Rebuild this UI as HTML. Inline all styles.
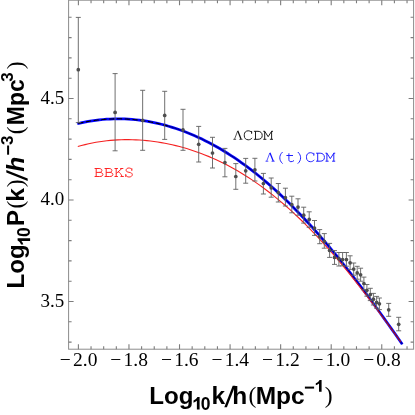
<!DOCTYPE html>
<html><head><meta charset="utf-8"><title>Power spectrum</title>
<style>html,body{margin:0;padding:0;background:#fff;width:415px;height:415px;overflow:hidden;font-family:"Liberation Sans",sans-serif}</style></head>
<body>
<div style="position:absolute;left:0;top:0;width:415px;height:415px;will-change:transform">
<svg width="415" height="415" viewBox="0 0 415 415" style="position:absolute;left:0;top:0">
<path d="M77.30,123.77 L80.95,122.91 L84.60,122.13 L88.26,121.44 L91.91,120.83 L95.56,120.31 L99.21,119.86 L102.86,119.50 L106.51,119.21 L110.17,119.01 L113.82,118.88 L117.47,118.83 L121.12,118.86 L124.77,118.97 L128.42,119.15 L132.08,119.42 L135.73,119.75 L139.38,120.17 L143.03,120.66 L146.68,121.23 L150.33,121.87 L153.99,122.59 L157.64,123.38 L161.29,124.25 L164.94,125.20 L168.59,126.22 L172.24,127.32 L175.90,128.50 L179.55,129.75 L183.20,131.07 L186.85,132.48 L190.50,133.96 L194.15,135.51 L197.81,137.15 L201.46,138.86 L205.11,140.64 L208.76,142.51 L212.41,144.45 L216.06,146.47 L219.72,148.56 L223.37,150.74 L227.02,152.99 L230.67,155.32 L234.32,157.72 L237.97,160.21 L241.63,162.77 L245.28,165.41 L248.93,168.13 L252.58,170.92 L256.23,173.79 L259.88,176.74 L263.54,179.77 L267.19,182.87 L270.84,186.05 L274.49,189.31 L278.14,192.64 L281.79,196.04 L285.45,199.52 L289.10,203.08 L292.75,206.71 L296.40,210.41 L300.05,214.19 L303.70,218.03 L307.36,221.95 L311.01,225.94 L314.66,230.00 L318.31,234.12 L321.96,238.31 L325.61,242.57 L329.27,246.89 L332.92,251.28 L336.57,255.73 L340.22,260.23 L343.87,264.80 L347.52,269.42 L351.18,274.10 L354.83,278.83 L358.48,283.62 L362.13,288.45 L365.78,293.33 L369.43,298.26 L373.09,303.22 L376.74,308.23 L380.39,313.28 L384.04,318.36 L387.69,323.47 L391.34,328.62 L395.00,333.78 L398.65,338.98 L402.30,344.19" fill="none" stroke="#0000ff" stroke-width="2.75"/>
<path d="M77.80,146.59 L81.43,145.56 L85.06,144.62 L88.69,143.77 L92.32,143.01 L95.95,142.33 L99.58,141.73 L103.20,141.21 L106.83,140.77 L110.46,140.41 L114.09,140.12 L117.72,139.90 L121.35,139.75 L124.98,139.67 L128.61,139.66 L132.24,139.72 L135.87,139.85 L139.50,140.05 L143.13,140.31 L146.76,140.63 L150.38,141.03 L154.01,141.49 L157.64,142.01 L161.27,142.60 L164.90,143.26 L168.53,143.98 L172.16,144.77 L175.79,145.62 L179.42,146.55 L183.05,147.53 L186.68,148.59 L190.31,149.71 L193.93,150.91 L197.56,152.17 L201.19,153.50 L204.82,154.90 L208.45,156.38 L212.08,157.92 L215.71,159.54 L219.34,161.23 L222.97,163.00 L226.60,164.84 L230.23,166.75 L233.86,168.75 L237.49,170.82 L241.11,172.96 L244.74,175.19 L248.37,177.49 L252.00,179.87 L255.63,182.34 L259.26,184.88 L262.89,187.50 L266.52,190.21 L270.15,193.00 L273.78,195.87 L277.41,198.82 L281.04,201.85 L284.67,204.96 L288.29,208.16 L291.92,211.44 L295.55,214.80 L299.18,218.24 L302.81,221.76 L306.44,225.36 L310.07,229.04 L313.70,232.80 L317.33,236.64 L320.96,240.56 L324.59,244.55 L328.22,248.61 L331.84,252.74 L335.47,256.95 L339.10,261.23 L342.73,265.57 L346.36,269.98 L349.99,274.45 L353.62,278.98 L357.25,283.56 L360.88,288.20 L364.51,292.90 L368.14,297.64 L371.77,302.43 L375.40,307.25 L379.02,312.12 L382.65,317.01 L386.28,321.94 L389.91,326.89 L393.54,331.86 L397.17,336.85 L400.80,341.84" fill="none" stroke="#f52020" stroke-width="1.1"/>
<path d="M78.30,123.52 L79.31,123.28 L80.32,123.05 L81.32,122.83 L82.33,122.61 L83.34,122.39 L84.35,122.19 L85.36,121.98 L86.36,121.79 L87.37,121.60 L88.38,121.42 L89.39,121.25 L90.39,121.08 L91.40,120.91 L92.41,120.76 L93.42,120.61 L94.43,120.46 L95.43,120.32 L96.44,120.19 L97.45,120.07 L98.46,119.95 L99.47,119.83 L100.47,119.73 L101.48,119.63 L102.49,119.53 L103.50,119.44 L104.50,119.36 L105.51,119.28 L106.52,119.21 L107.53,119.15 L108.54,119.09 L109.54,119.04 L110.55,118.99 L111.56,118.95 L112.57,118.92 L113.58,118.89 L114.58,118.87 L115.59,118.85 L116.60,118.84 L117.61,118.83 L118.61,118.83 L119.62,118.84 L120.63,118.85 L121.64,118.87 L122.65,118.90 L123.65,118.93 L124.66,118.97 L125.67,119.01 L126.68,119.06 L127.69,119.11 L128.69,119.17 L129.70,119.24 L130.71,119.31 L131.72,119.39 L132.72,119.47 L133.73,119.56 L134.74,119.66 L135.75,119.76 L136.76,119.86 L137.76,119.98 L138.77,120.09 L139.78,120.22 L140.79,120.35 L141.80,120.48 L142.80,120.63 L143.81,120.77 L144.82,120.93 L145.83,121.09 L146.83,121.25 L147.84,121.42 L148.85,121.60 L149.86,121.78 L150.87,121.97 L151.87,122.16 L152.88,122.36 L153.89,122.57 L154.90,122.78 L155.91,123.00 L156.91,123.22 L157.92,123.45 L158.93,123.68 L159.94,123.92 L160.94,124.17 L161.95,124.42 L162.96,124.68 L163.97,124.94 L164.98,125.21 L165.98,125.48 L166.99,125.76 L168.00,126.05" fill="none" stroke="#000" stroke-width="1.05" stroke-dasharray="5.2 2.6"/>
<path d="M168.00,126.05 L169.99,126.63 L171.98,127.24 L173.97,127.87 L175.96,128.52 L177.94,129.19 L179.93,129.88 L181.92,130.60 L183.91,131.34 L185.90,132.10 L187.89,132.89 L189.88,133.70 L191.87,134.53 L193.85,135.38 L195.84,136.26 L197.83,137.16 L199.82,138.08 L201.81,139.03 L203.80,139.99 L205.79,140.98 L207.78,142.00 L209.76,143.03 L211.75,144.09 L213.74,145.18 L215.73,146.28 L217.72,147.41 L219.71,148.56 L221.70,149.73 L223.69,150.93 L225.67,152.15 L227.66,153.39 L229.65,154.66 L231.64,155.95 L233.63,157.26 L235.62,158.60 L237.61,159.96 L239.60,161.34 L241.58,162.74 L243.57,164.17 L245.56,165.62 L247.55,167.09 L249.54,168.59 L251.53,170.11 L253.52,171.65 L255.51,173.22 L257.49,174.80 L259.48,176.41 L261.47,178.05 L263.46,179.71 L265.45,181.38 L267.44,183.09 L269.43,184.81 L271.42,186.56 L273.40,188.33 L275.39,190.12 L277.38,191.94 L279.37,193.77 L281.36,195.63 L283.35,197.52 L285.34,199.42 L287.33,201.35 L289.31,203.29 L291.30,205.26 L293.29,207.26 L295.28,209.27 L297.27,211.30 L299.26,213.36 L301.25,215.44 L303.24,217.54 L305.22,219.66 L307.21,221.80 L309.20,223.96 L311.19,226.14 L313.18,228.35 L315.17,230.57 L317.16,232.81 L319.15,235.07 L321.13,237.36 L323.12,239.66 L325.11,241.98 L327.10,244.32 L329.09,246.68 L331.08,249.06 L333.07,251.46 L335.06,253.88 L337.04,256.31 L339.03,258.76 L341.02,261.23 L343.01,263.72 L345.00,266.22" fill="none" stroke="#000" stroke-width="0.85" stroke-opacity="0.6"/>
<path d="M345.00,266.22 L345.06,266.29 L345.11,266.37 L345.17,266.44 L345.23,266.51 L345.29,266.58 L345.34,266.66 L345.40,266.73M345.80,267.24 L345.90,267.36 L345.99,267.48 L346.09,267.60 L346.18,267.72 L346.28,267.84 L346.38,267.96 L346.41,268.01M346.82,268.52 L346.91,268.64 L347.01,268.76 L347.10,268.89 L347.20,269.01 L347.29,269.13 L347.39,269.25 L347.41,269.27M347.81,269.79 L347.90,269.91 L348.00,270.03 L348.10,270.15 L348.19,270.27 L348.29,270.40 L348.38,270.52 L348.40,270.54M348.80,271.05 L348.90,271.18 L348.99,271.30 L349.09,271.42 L349.18,271.54 L349.28,271.67 L349.38,271.79 L349.41,271.84M349.81,272.35 L349.91,272.47 L350.01,272.60 L350.10,272.72 L350.20,272.84 L350.29,272.97 L350.39,273.09 L350.41,273.11M350.81,273.63 L350.90,273.75 L351.00,273.87 L351.09,274.00 L351.19,274.12 L351.29,274.24 L351.38,274.37 L351.42,274.42M351.80,274.91 L351.90,275.03 L351.99,275.16 L352.09,275.28 L352.18,275.40 L352.28,275.53 L352.38,275.65 L352.41,275.70M352.81,276.22 L352.91,276.34 L353.01,276.47 L353.10,276.59 L353.20,276.71 L353.29,276.84 L353.39,276.96 L353.41,276.99M353.81,277.51 L353.90,277.63 L354.00,277.76 L354.09,277.88 L354.19,278.00 L354.29,278.13 L354.38,278.25 L354.42,278.30M354.80,278.80 L354.90,278.92 L354.99,279.05 L355.09,279.17 L355.18,279.30 L355.28,279.42 L355.37,279.55 L355.41,279.60M355.81,280.12 L355.91,280.25 L356.01,280.37 L356.10,280.50 L356.20,280.62 L356.29,280.75 L356.39,280.87 L356.41,280.90M356.81,281.42 L356.90,281.55 L357.00,281.67 L357.09,281.80 L357.19,281.92 L357.29,282.05 L357.38,282.17 L357.42,282.22M357.80,282.73 L357.90,282.85 L357.99,282.98 L358.09,283.10 L358.18,283.23 L358.28,283.35 L358.37,283.48 L358.41,283.53M358.81,284.06 L358.91,284.18 L359.00,284.31 L359.10,284.44 L359.20,284.56 L359.29,284.69 L359.39,284.81 L359.41,284.84M359.81,285.37 L359.90,285.50 L360.00,285.62 L360.09,285.75 L360.19,285.88 L360.29,286.00 L360.38,286.13 L360.42,286.18M360.80,286.68 L360.90,286.81 L360.99,286.94 L361.09,287.06 L361.18,287.19 L361.28,287.32 L361.37,287.45 L361.41,287.50M361.81,288.03 L361.91,288.16 L362.00,288.28 L362.10,288.41 L362.20,288.54 L362.29,288.66 L362.39,288.79 L362.41,288.82M362.81,289.35 L362.90,289.48 L363.00,289.61 L363.09,289.73 L363.19,289.86 L363.28,289.99 L363.38,290.12 L363.42,290.17M363.80,290.68 L363.90,290.80 L363.99,290.93 L364.09,291.06 L364.18,291.19 L364.28,291.31 L364.37,291.44 L364.41,291.49M364.81,292.03 L364.91,292.16 L365.00,292.29 L365.10,292.42 L365.20,292.54 L365.29,292.67 L365.39,292.80 L365.41,292.82M365.81,293.36 L365.90,293.49 L366.00,293.62 L366.09,293.75 L366.19,293.88 L366.28,294.01 L366.38,294.13 L366.42,294.19M366.80,294.70 L366.90,294.83 L366.99,294.96 L367.09,295.09 L367.18,295.21 L367.28,295.34 L367.37,295.47 L367.41,295.52M367.81,296.06 L367.91,296.19 L368.00,296.32 L368.10,296.45 L368.20,296.58 L368.29,296.71 L368.39,296.84 L368.41,296.86M368.81,297.41 L368.90,297.54 L369.00,297.66 L369.09,297.79 L369.19,297.92 L369.28,298.05 L369.38,298.18 L369.42,298.23M369.80,298.75 L369.90,298.88 L369.99,299.01 L370.09,299.14 L370.18,299.27 L370.28,299.40 L370.37,299.53 L370.41,299.58M370.81,300.13 L370.91,300.26 L371.00,300.39 L371.10,300.52 L371.19,300.65 L371.29,300.78 L371.39,300.91 L371.41,300.93M371.81,301.48 L371.90,301.61 L372.00,301.74 L372.09,301.87 L372.19,302.00 L372.28,302.13 L372.38,302.26 L372.42,302.31M372.82,302.86 L372.91,302.99 L373.01,303.12 L373.11,303.25 L373.20,303.38 L373.30,303.51 L373.39,303.64 L373.41,303.67M373.81,304.22 L373.91,304.35 L374.00,304.48 L374.10,304.61 L374.19,304.74 L374.29,304.87 L374.39,305.00 L374.40,305.03M374.81,305.58 L374.90,305.71 L375.00,305.84 L375.09,305.97 L375.19,306.10 L375.28,306.23 L375.38,306.36 L375.42,306.42M375.82,306.97 L375.91,307.10 L376.01,307.23 L376.11,307.36 L376.20,307.49 L376.30,307.62 L376.39,307.76 L376.41,307.78M376.81,308.33 L376.91,308.47 L377.00,308.60 L377.10,308.73 L377.19,308.86 L377.29,308.99 L377.39,309.12 L377.40,309.15M377.81,309.70 L377.90,309.84 L378.00,309.97 L378.09,310.10 L378.19,310.23 L378.28,310.36 L378.38,310.50 L378.42,310.55M378.82,311.10 L378.91,311.23 L379.01,311.37 L379.10,311.50 L379.20,311.63 L379.30,311.76 L379.39,311.90 L379.41,311.92M379.81,312.48 L379.91,312.61 L380.00,312.74 L380.10,312.87 L380.19,313.01 L380.29,313.14 L380.38,313.27 L380.40,313.30M380.81,313.86 L380.90,313.99 L381.00,314.12 L381.09,314.25 L381.19,314.39 L381.28,314.52 L381.38,314.65 L381.42,314.70M381.82,315.26 L381.91,315.39 L382.01,315.53 L382.10,315.66 L382.20,315.79 L382.30,315.93 L382.39,316.06 L382.41,316.09M382.81,316.64 L382.91,316.78 L383.00,316.91 L383.10,317.04 L383.19,317.18 L383.29,317.31 L383.38,317.44 L383.40,317.47M383.81,318.03 L383.90,318.16 L384.00,318.30 L384.09,318.43 L384.19,318.56 L384.28,318.70 L384.38,318.83 L384.42,318.88M384.82,319.44 L384.91,319.58 L385.01,319.71 L385.10,319.84 L385.20,319.98 L385.30,320.11 L385.39,320.25 L385.41,320.27M385.81,320.83 L385.91,320.97 L386.00,321.10 L386.10,321.24 L386.19,321.37 L386.29,321.50 L386.38,321.64 L386.40,321.66M386.80,322.23 L386.90,322.36 L387.00,322.49 L387.09,322.63 L387.19,322.76 L387.28,322.90 L387.38,323.03 L387.42,323.08M387.82,323.65 L387.91,323.78 L388.01,323.92 L388.10,324.05 L388.20,324.18 L388.30,324.32 L388.39,324.45 L388.41,324.48M388.81,325.04 L388.91,325.18 L389.00,325.31 L389.10,325.45 L389.19,325.58 L389.29,325.72 L389.38,325.85 L389.40,325.88M389.80,326.44 L389.90,326.58 L390.00,326.71 L390.09,326.85 L390.19,326.98 L390.28,327.12 L390.38,327.25 L390.42,327.30M390.82,327.87 L390.91,328.00 L391.01,328.14 L391.10,328.27 L391.20,328.41 L391.29,328.54 L391.39,328.68 L391.41,328.71M391.81,329.27 L391.91,329.41 L392.00,329.54 L392.10,329.68 L392.19,329.81 L392.29,329.95 L392.38,330.08 L392.40,330.11M392.80,330.68 L392.90,330.81 L393.00,330.95 L393.09,331.08 L393.19,331.22 L393.28,331.35 L393.38,331.49 L393.42,331.54M393.82,332.11 L393.91,332.25 L394.01,332.38 L394.10,332.52 L394.20,332.65 L394.29,332.79 L394.39,332.92 L394.41,332.95M394.81,333.52 L394.91,333.65 L395.00,333.79 L395.10,333.93 L395.19,334.06 L395.29,334.20 L395.38,334.33 L395.40,334.36M395.80,334.93 L395.90,335.06 L395.99,335.20 L396.09,335.34 L396.19,335.47 L396.28,335.61 L396.38,335.74 L396.42,335.80M396.82,336.37 L396.91,336.50 L397.01,336.64 L397.10,336.78 L397.20,336.91 L397.29,337.05 L397.39,337.18 L397.41,337.21M397.81,337.78 L397.91,337.92 L398.00,338.05 L398.10,338.19 L398.19,338.33 L398.29,338.46 L398.38,338.60 L398.40,338.62M398.80,339.20 L398.90,339.33 L398.99,339.47 L399.09,339.60 L399.19,339.74 L399.28,339.88 L399.38,340.01 L399.41,340.07M399.82,340.64 L399.91,340.78 L400.01,340.91 L400.10,341.05 L400.20,341.18 L400.29,341.32 L400.39,341.46 L400.41,341.48M400.81,342.06 L400.91,342.19 L401.00,342.33 L401.10,342.47 L401.19,342.60 L401.29,342.74 L401.38,342.88 L401.40,342.90M401.80,343.48 L401.88,343.59 L401.96,343.69 L402.03,343.80 L402.11,343.91 L402.19,344.02 L402.26,344.13 L402.30,344.19" fill="none" stroke="#000" stroke-width="1.0" stroke-opacity="0.85"/>
<path d="M78.30,17.40V122.60M75.80,17.40H80.80M75.80,122.60H80.80M115.10,73.60V150.80M112.60,73.60H117.60M112.60,150.80H117.60M142.65,90.30V150.30M140.15,90.30H145.15M140.15,150.30H145.15M164.70,91.30V139.40M162.20,91.30H167.20M162.20,139.40H167.20M183.00,109.30V150.30M180.50,109.30H185.50M180.50,150.30H185.50M198.70,126.40V162.00M196.20,126.40H201.20M196.20,162.00H201.20M212.50,137.30V168.00M210.00,137.30H215.00M210.00,168.00H215.00M224.90,148.40V176.80M222.40,148.40H227.40M222.40,176.80H227.40M235.80,163.60V189.30M233.30,163.60H238.30M233.30,189.30H238.30M245.70,158.40V183.20M243.20,158.40H248.20M243.20,183.20H248.20M254.90,158.30V181.00M252.40,158.30H257.40M252.40,181.00H257.40M263.40,173.40V194.00M260.90,173.40H265.90M260.90,194.00H265.90M271.20,178.00V197.20M268.70,178.00H273.70M268.70,197.20H273.70M278.30,183.50V202.00M275.80,183.50H280.80M275.80,202.00H280.80M285.40,188.20V206.00M282.90,188.20H287.90M282.90,206.00H287.90M291.80,196.20V212.80M289.30,196.20H294.30M289.30,212.80H294.30M298.00,198.80V215.20M295.50,198.80H300.50M295.50,215.20H300.50M303.70,207.20V223.10M301.20,207.20H306.20M301.20,223.10H306.20M309.20,211.80V227.30M306.70,211.80H311.70M306.70,227.30H311.70M314.50,220.50V235.40M312.00,220.50H317.00M312.00,235.40H317.00M319.70,229.60V243.70M317.20,229.60H322.20M317.20,243.70H322.20M324.30,233.60V248.20M321.80,233.60H326.80M321.80,248.20H326.80M329.60,243.40V257.40M327.10,243.40H332.10M327.10,257.40H332.10M334.50,250.60V264.40M332.00,250.60H337.00M332.00,264.40H337.00M338.90,252.50V266.00M336.40,252.50H341.40M336.40,266.00H341.40M342.60,252.50V265.80M340.10,252.50H345.10M340.10,265.80H345.10M346.40,252.50V266.20M343.90,252.50H348.90M343.90,266.20H348.90M350.10,255.80V269.40M347.60,255.80H352.60M347.60,269.40H352.60M353.70,263.00V275.20M351.20,263.00H356.20M351.20,275.20H356.20M357.20,266.30V279.20M354.70,266.30H359.70M354.70,279.20H359.70M360.60,268.20V281.20M358.10,268.20H363.10M358.10,281.20H363.10M363.90,277.10V289.90M361.40,277.10H366.40M361.40,289.90H366.40M366.90,284.50V296.20M364.40,284.50H369.40M364.40,296.20H369.40M370.30,288.30V300.60M367.80,288.30H372.80M367.80,300.60H372.80M373.40,293.40V305.00M370.90,293.40H375.90M370.90,305.00H375.90M376.60,296.40V308.20M374.10,296.40H379.10M374.10,308.20H379.10M379.40,298.00V309.60M376.90,298.00H381.90M376.90,309.60H381.90M388.70,303.40V316.30M386.20,303.40H391.20M386.20,316.30H391.20M398.70,317.30V330.80M396.20,317.30H401.20M396.20,330.80H401.20" fill="none" stroke="#606060" stroke-opacity="0.9" stroke-width="1.0"/>
<circle cx="78.30" cy="69.70" r="1.85" fill="#4e4e4e"/>
<circle cx="115.10" cy="112.40" r="1.85" fill="#4e4e4e"/>
<circle cx="142.65" cy="120.40" r="1.85" fill="#4e4e4e"/>
<circle cx="164.70" cy="115.40" r="1.85" fill="#4e4e4e"/>
<circle cx="183.00" cy="129.80" r="1.85" fill="#4e4e4e"/>
<circle cx="198.70" cy="144.30" r="1.85" fill="#4e4e4e"/>
<circle cx="212.50" cy="153.00" r="1.85" fill="#4e4e4e"/>
<circle cx="224.90" cy="162.60" r="1.85" fill="#4e4e4e"/>
<circle cx="235.80" cy="176.50" r="1.85" fill="#4e4e4e"/>
<circle cx="245.70" cy="170.80" r="1.85" fill="#4e4e4e"/>
<circle cx="254.90" cy="169.80" r="1.85" fill="#4e4e4e"/>
<circle cx="263.40" cy="183.50" r="1.85" fill="#4e4e4e"/>
<circle cx="271.20" cy="187.80" r="1.85" fill="#4e4e4e"/>
<circle cx="278.30" cy="192.60" r="1.85" fill="#4e4e4e"/>
<circle cx="285.40" cy="197.70" r="1.85" fill="#4e4e4e"/>
<circle cx="291.80" cy="204.60" r="1.85" fill="#4e4e4e"/>
<circle cx="298.00" cy="207.10" r="1.85" fill="#4e4e4e"/>
<circle cx="303.70" cy="215.20" r="1.85" fill="#4e4e4e"/>
<circle cx="309.20" cy="219.40" r="1.85" fill="#4e4e4e"/>
<circle cx="314.50" cy="228.00" r="1.85" fill="#4e4e4e"/>
<circle cx="319.70" cy="236.40" r="1.85" fill="#4e4e4e"/>
<circle cx="324.30" cy="241.30" r="1.85" fill="#4e4e4e"/>
<circle cx="329.60" cy="250.40" r="1.85" fill="#4e4e4e"/>
<circle cx="334.50" cy="257.40" r="1.85" fill="#4e4e4e"/>
<circle cx="338.90" cy="258.70" r="1.85" fill="#4e4e4e"/>
<circle cx="342.60" cy="259.50" r="1.85" fill="#4e4e4e"/>
<circle cx="346.40" cy="259.60" r="1.85" fill="#4e4e4e"/>
<circle cx="350.10" cy="262.80" r="1.85" fill="#4e4e4e"/>
<circle cx="353.70" cy="269.10" r="1.85" fill="#4e4e4e"/>
<circle cx="357.20" cy="272.90" r="1.85" fill="#4e4e4e"/>
<circle cx="360.60" cy="274.80" r="1.85" fill="#4e4e4e"/>
<circle cx="363.90" cy="283.50" r="1.85" fill="#4e4e4e"/>
<circle cx="366.90" cy="290.30" r="1.85" fill="#4e4e4e"/>
<circle cx="370.30" cy="294.50" r="1.85" fill="#4e4e4e"/>
<circle cx="373.40" cy="299.20" r="1.85" fill="#4e4e4e"/>
<circle cx="376.60" cy="302.40" r="1.85" fill="#4e4e4e"/>
<circle cx="379.40" cy="303.80" r="1.85" fill="#4e4e4e"/>
<circle cx="388.70" cy="309.80" r="1.85" fill="#4e4e4e"/>
<circle cx="398.70" cy="324.30" r="1.85" fill="#4e4e4e"/>
<rect x="68.6" y="0.2" width="345.0" height="349.0" fill="none" stroke="#8c8c8c" stroke-width="1"/>
<path d="M78.40,349.2v-5M78.40,0.2v5M91.04,349.2v-3M91.04,0.2v3M103.68,349.2v-3M103.68,0.2v3M116.32,349.2v-3M116.32,0.2v3M128.96,349.2v-5M128.96,0.2v5M141.60,349.2v-3M141.60,0.2v3M154.24,349.2v-3M154.24,0.2v3M166.88,349.2v-3M166.88,0.2v3M179.52,349.2v-5M179.52,0.2v5M192.16,349.2v-3M192.16,0.2v3M204.80,349.2v-3M204.80,0.2v3M217.44,349.2v-3M217.44,0.2v3M230.08,349.2v-5M230.08,0.2v5M242.72,349.2v-3M242.72,0.2v3M255.36,349.2v-3M255.36,0.2v3M268.00,349.2v-3M268.00,0.2v3M280.64,349.2v-5M280.64,0.2v5M293.28,349.2v-3M293.28,0.2v3M305.92,349.2v-3M305.92,0.2v3M318.56,349.2v-3M318.56,0.2v3M331.20,349.2v-5M331.20,0.2v5M343.84,349.2v-3M343.84,0.2v3M356.48,349.2v-3M356.48,0.2v3M369.12,349.2v-3M369.12,0.2v3M381.76,349.2v-5M381.76,0.2v5M394.40,349.2v-3M394.40,0.2v3M407.04,349.2v-3M407.04,0.2v3M68.6,342.10h3M413.6,342.10h-3M68.6,321.80h3M413.6,321.80h-3M68.6,301.50h5M413.6,301.50h-5M68.6,281.20h3M413.6,281.20h-3M68.6,260.90h3M413.6,260.90h-3M68.6,240.60h3M413.6,240.60h-3M68.6,220.30h3M413.6,220.30h-3M68.6,200.00h5M413.6,200.00h-5M68.6,179.70h3M413.6,179.70h-3M68.6,159.40h3M413.6,159.40h-3M68.6,139.10h3M413.6,139.10h-3M68.6,118.80h3M413.6,118.80h-3M68.6,98.50h5M413.6,98.50h-5M68.6,78.20h3M413.6,78.20h-3M68.6,57.90h3M413.6,57.90h-3M68.6,37.60h3M413.6,37.60h-3M68.6,17.30h3M413.6,17.30h-3" fill="none" stroke="#7c7c7c" stroke-width="1.1"/>
<text x="78.60" y="366.4" text-anchor="middle" font-family="Liberation Serif" font-size="19.5" fill="#000">−<tspan dx="2.2">2.0</tspan></text>
<text x="129.16" y="366.4" text-anchor="middle" font-family="Liberation Serif" font-size="19.5" fill="#000">−<tspan dx="2.2">1.8</tspan></text>
<text x="179.72" y="366.4" text-anchor="middle" font-family="Liberation Serif" font-size="19.5" fill="#000">−<tspan dx="2.2">1.6</tspan></text>
<text x="230.28" y="366.4" text-anchor="middle" font-family="Liberation Serif" font-size="19.5" fill="#000">−<tspan dx="2.2">1.4</tspan></text>
<text x="280.84" y="366.4" text-anchor="middle" font-family="Liberation Serif" font-size="19.5" fill="#000">−<tspan dx="2.2">1.2</tspan></text>
<text x="331.40" y="366.4" text-anchor="middle" font-family="Liberation Serif" font-size="19.5" fill="#000">−<tspan dx="2.2">1.0</tspan></text>
<text x="381.96" y="366.4" text-anchor="middle" font-family="Liberation Serif" font-size="19.5" fill="#000">−<tspan dx="2.2">0.8</tspan></text>
<text x="64.2" y="306.70" text-anchor="end" font-family="Liberation Serif" font-size="19" fill="#000">3.5</text>
<text x="64.2" y="205.20" text-anchor="end" font-family="Liberation Serif" font-size="19" fill="#000">4.0</text>
<text x="64.2" y="103.70" text-anchor="end" font-family="Liberation Serif" font-size="19" fill="#000">4.5</text>
<g fill="none" stroke="#111" stroke-width="0.95" stroke-linejoin="round"><g transform="translate(233.00,139.7)"><path d="M0.3,-0.35H3.1M6.3,-0.35H9.5" stroke-width="0.7"/><path d="M1.5,-0.4L4.6,-8.6" stroke-width="0.7"/><path d="M4.75,-8.9L8.1,-0.4" stroke-width="1.25"/></g><path transform="translate(243.00,139.7)" d="M8.6,-5.9V-8.7M8.6,-7.3C7.8,-8.3 6.6,-8.9 5.2,-8.9C2.9,-8.9 1.3,-7.3 1.3,-5V-3.8C1.3,-1.5 2.9,0.1 5.3,0.1C6.8,0.1 8.1,-0.5 9.1,-1.8"/><path transform="translate(253.00,139.7)" d="M0.9,-8.4H5C7.6,-8.4 9.2,-6.7 9.2,-4.4V-4C9.2,-1.7 7.6,-0.4 5,-0.4H0.9M2.5,-8.4V-0.4"/><path transform="translate(263.00,139.7)" d="M0.3,-0.4H3.4M6.9,-0.4H10M0.3,-8.4H1.9M8.4,-8.4H10M1.7,-0.4V-8.4L5.15,-3L8.6,-8.4V-0.4"/></g>
<g fill="none" stroke="#1414ff" stroke-width="0.95" stroke-linejoin="round"><g transform="translate(265.20,161.6)"><path d="M0.3,-0.35H3.1M6.3,-0.35H9.5" stroke-width="0.7"/><path d="M1.5,-0.4L4.6,-8.6" stroke-width="0.7"/><path d="M4.75,-8.9L8.1,-0.4" stroke-width="1.25"/></g><path transform="translate(275.20,161.6)" d="M7.4,-9.6C5.4,-7.8 4.6,-5.8 4.6,-3.8C4.6,-1.8 5.4,0.2 7.4,2"/><path transform="translate(285.20,161.6)" d="M3.7,-8.3V-2C3.7,-0.6 4.5,0.1 5.8,0.1C7,0.1 8,-0.3 8.8,-1.1M1.2,-6.1H7.8"/><path transform="translate(295.20,161.6)" d="M2.6,-9.6C4.6,-7.8 5.4,-5.8 5.4,-3.8C5.4,-1.8 4.6,0.2 2.6,2"/><path transform="translate(305.20,161.6)" d="M8.6,-5.9V-8.7M8.6,-7.3C7.8,-8.3 6.6,-8.9 5.2,-8.9C2.9,-8.9 1.3,-7.3 1.3,-5V-3.8C1.3,-1.5 2.9,0.1 5.3,0.1C6.8,0.1 8.1,-0.5 9.1,-1.8"/><path transform="translate(315.20,161.6)" d="M0.9,-8.4H5C7.6,-8.4 9.2,-6.7 9.2,-4.4V-4C9.2,-1.7 7.6,-0.4 5,-0.4H0.9M2.5,-8.4V-0.4"/><path transform="translate(325.20,161.6)" d="M0.3,-0.4H3.4M6.9,-0.4H10M0.3,-8.4H1.9M8.4,-8.4H10M1.7,-0.4V-8.4L5.15,-3L8.6,-8.4V-0.4"/></g>
<g fill="none" stroke="#ff1a1a" stroke-width="0.95" stroke-linejoin="round"><path transform="translate(93.90,176.9)" d="M0.7,-8.4H5.2C7,-8.4 8,-7.5 8,-6.4C8,-5.3 7,-4.5 5.4,-4.5H2.3M5.4,-4.5C7.6,-4.5 9,-3.7 9,-2.4C9,-1.1 7.7,-0.4 5.8,-0.4H0.7M2.3,-8.4V-0.4"/><path transform="translate(103.90,176.9)" d="M0.7,-8.4H5.2C7,-8.4 8,-7.5 8,-6.4C8,-5.3 7,-4.5 5.4,-4.5H2.3M5.4,-4.5C7.6,-4.5 9,-3.7 9,-2.4C9,-1.1 7.7,-0.4 5.8,-0.4H0.7M2.3,-8.4V-0.4"/><path transform="translate(113.90,176.9)" d="M0.6,-8.4H4M0.6,-0.4H4M6.3,-8.4H9.4M6.6,-0.4H9.9M2.3,-8.4V-0.4M8,-8.4L2.3,-3.4M4.2,-5.1C6,-4.6 7,-3 8.2,-0.4"/><path transform="translate(123.90,176.9)" d="M7.9,-6V-8.7M7.9,-7.4C7.2,-8.4 6.2,-8.9 5,-8.9C3.3,-8.9 2.2,-7.9 2.2,-6.7C2.2,-5.4 3.2,-4.9 5.1,-4.6C7.3,-4.2 8.4,-3.6 8.4,-2.3C8.4,-0.9 7.1,0.1 5.2,0.1C3.8,0.1 2.7,-0.5 1.9,-1.6M1.9,-2.9V0.1"/></g>
<g fill="#000"><text x="149.2" y="403.7" font-family="Liberation Sans" font-weight="bold" font-style="normal" font-size="24.5" textLength="44.2" lengthAdjust="spacingAndGlyphs">Log</text><path transform="translate(193.5,409.5) scale(1.0417)" d="M3.25,0V-8.3C2.4,-7.5 1.3,-6.9 0,-6.5V-8.7C1.7,-9.3 3.1,-10.5 3.8,-12H5.85V0Z"/><text x="200.8" y="409.5" font-family="Liberation Sans" font-weight="bold" font-style="normal" font-size="17.5">0</text><text x="211.6" y="403.7" font-family="Liberation Sans" font-weight="bold" font-style="normal" font-size="24.5">k</text><polygon points="224.30,407.20 226.90,407.20 235.30,385.80 232.70,385.80"/><text x="232.3" y="403.7" font-family="Liberation Sans" font-weight="bold" font-style="normal" font-size="24.5">h</text><text x="248.6" y="402.59999999999997" font-family="Liberation Serif" font-weight="normal" font-style="normal" font-size="23.5">(</text><text x="255.7" y="403.7" font-family="Liberation Sans" font-weight="bold" font-style="normal" font-size="24.5">Mpc</text><rect x="304.9" y="386.60" width="9.2" height="2.0"/><path transform="translate(315.8,391.8) scale(0.9917)" d="M3.25,0V-8.3C2.4,-7.5 1.3,-6.9 0,-6.5V-8.7C1.7,-9.3 3.1,-10.5 3.8,-12H5.85V0Z"/><text x="324.8" y="402.59999999999997" font-family="Liberation Serif" font-weight="normal" font-style="normal" font-size="23.5">)</text></g>
<g fill="#000" transform="translate(24.2,0) rotate(-90)"><text x="-288.4" y="0" font-family="Liberation Sans" font-weight="bold" font-style="normal" font-size="24.5" textLength="44.2" lengthAdjust="spacingAndGlyphs">Log</text><path transform="translate(-244.4,5.9) scale(1.0417)" d="M3.25,0V-8.3C2.4,-7.5 1.3,-6.9 0,-6.5V-8.7C1.7,-9.3 3.1,-10.5 3.8,-12H5.85V0Z"/><text x="-237.1" y="5.9" font-family="Liberation Sans" font-weight="bold" font-style="normal" font-size="17.5">0</text><text x="-226.2" y="0" font-family="Liberation Sans" font-weight="bold" font-style="normal" font-size="24.5">P</text><text x="-208.6" y="-1.1" font-family="Liberation Serif" font-weight="normal" font-style="normal" font-size="23.5">(</text><text x="-201.7" y="0" font-family="Liberation Sans" font-weight="bold" font-style="normal" font-size="24.5">k</text><text x="-187.2" y="-1.1" font-family="Liberation Serif" font-weight="normal" font-style="normal" font-size="23.5">)</text><polygon points="-181.00,3.50 -178.40,3.50 -170.00,-17.90 -172.60,-17.90"/><text x="-171.8" y="0" font-family="Liberation Sans" font-weight="bold" font-style="italic" font-size="24.5">h</text><rect x="-154.7" y="-17.10" width="9.2" height="2.0"/><text x="-145.0" y="-11.0" font-family="Liberation Sans" font-weight="bold" font-style="normal" font-size="17">3</text><text x="-134.2" y="-1.1" font-family="Liberation Serif" font-weight="normal" font-style="normal" font-size="23.5">(</text><text x="-125.2" y="0" font-family="Liberation Sans" font-weight="bold" font-style="normal" font-size="24.5" textLength="46.0" lengthAdjust="spacingAndGlyphs">Mpc</text><text x="-81.7" y="-11.0" font-family="Liberation Sans" font-weight="bold" font-style="normal" font-size="17">3</text><text x="-69.2" y="-1.1" font-family="Liberation Serif" font-weight="normal" font-style="normal" font-size="23.5">)</text></g>
</svg>
</div>
</body></html>
